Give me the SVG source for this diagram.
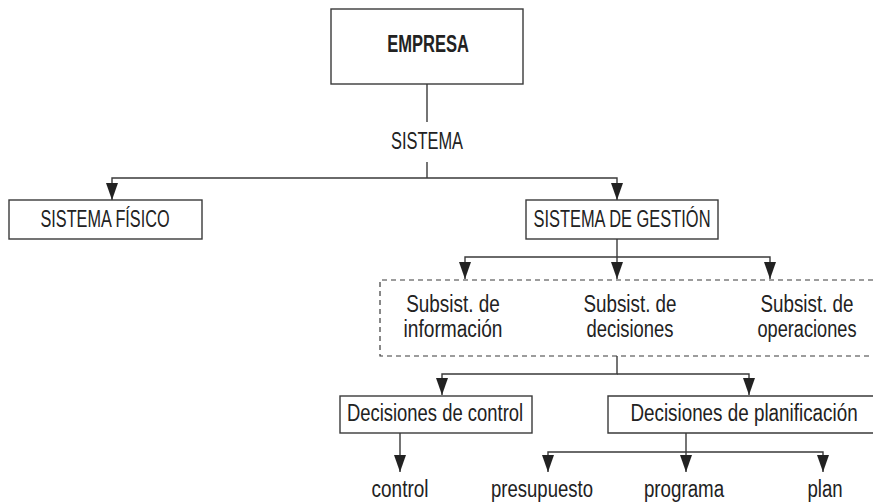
<svg xmlns="http://www.w3.org/2000/svg" width="873" height="504" viewBox="0 0 873 504">
  <style>
    .box { fill: #ffffff; stroke: #3a3a3a; stroke-width: 1.4; }
    .open { fill: none; stroke: #3a3a3a; stroke-width: 1.4; }
    .dash { fill: none; stroke: #3a3a3a; stroke-width: 1.2; stroke-dasharray: 5 4; }
    .ln { fill: none; stroke: #3a3a3a; stroke-width: 1.4; }
    .t { font-family: "Liberation Sans", Arial, sans-serif; font-size: 23.5px; fill: #222222; text-anchor: middle; }
    .b { font-weight: bold; }
  </style>
  <defs>
    <marker id="arr" viewBox="0 0 17 12" refX="17" refY="6" markerWidth="17" markerHeight="12" markerUnits="userSpaceOnUse" orient="auto">
      <path d="M0,0 L17,6 L0,12 z" fill="#222222"/>
    </marker>
  </defs>
  <rect width="873" height="504" fill="#ffffff"/>

  <g id="connectors">
    <path class="ln" d="M427,84 V122"/>
    <path class="ln" d="M427,162 V178"/>
    <path class="ln" d="M427,178 H112 V200" marker-end="url(#arr)"/>
    <path class="ln" d="M427,178 H617 V200" marker-end="url(#arr)"/>
    <path class="ln" d="M617,239 V279" marker-end="url(#arr)"/>
    <path class="ln" d="M617,257 H465 V279" marker-end="url(#arr)"/>
    <path class="ln" d="M617,257 H770 V279" marker-end="url(#arr)"/>
    <path class="ln" d="M617,356 V374 H442 V395" marker-end="url(#arr)"/>
    <path class="ln" d="M617,374 H749 V395" marker-end="url(#arr)"/>
    <path class="ln" d="M400,433 V472" marker-end="url(#arr)"/>
    <path class="ln" d="M686,433 V472" marker-end="url(#arr)"/>
    <path class="ln" d="M686,452 H548 V472" marker-end="url(#arr)"/>
    <path class="ln" d="M686,452 H823 V472" marker-end="url(#arr)"/>
  </g>

  <g id="empresa">
    <rect class="box" x="331" y="9" width="192" height="75"/>
    <text class="t b" transform="translate(428,52) scale(0.75,1)" textLength="109" lengthAdjust="spacingAndGlyphs">EMPRESA</text>
  </g>

  <g id="sistema">
    <text class="t" transform="translate(427,149) scale(0.75,1)" textLength="96" lengthAdjust="spacingAndGlyphs">SISTEMA</text>
  </g>

  <g id="sistema-fisico">
    <rect class="box" x="9" y="200" width="193" height="39"/>
    <text class="t" transform="translate(105,227) scale(0.75,1)" textLength="172" lengthAdjust="spacingAndGlyphs">SISTEMA FÍSICO</text>
  </g>

  <g id="sistema-gestion">
    <rect class="box" x="526" y="200" width="192" height="39"/>
    <text class="t" transform="translate(622,227) scale(0.75,1)" textLength="236" lengthAdjust="spacingAndGlyphs">SISTEMA DE GESTIÓN</text>
  </g>

  <g id="subsistemas">
    <path class="dash" d="M873,280 H380 V356 H873"/>
  </g>

  <g id="subsist-informacion">
    <text class="t" transform="translate(453,312) scale(0.75,1)" textLength="125" lengthAdjust="spacingAndGlyphs">Subsist. de</text>
    <text class="t" transform="translate(453,337) scale(0.75,1)" textLength="132" lengthAdjust="spacingAndGlyphs">información</text>
  </g>

  <g id="subsist-decisiones">
    <text class="t" transform="translate(630,312) scale(0.75,1)" textLength="124" lengthAdjust="spacingAndGlyphs">Subsist. de</text>
    <text class="t" transform="translate(630,337) scale(0.75,1)" textLength="116" lengthAdjust="spacingAndGlyphs">decisiones</text>
  </g>

  <g id="subsist-operaciones">
    <text class="t" transform="translate(807,312) scale(0.75,1)" textLength="124" lengthAdjust="spacingAndGlyphs">Subsist. de</text>
    <text class="t" transform="translate(807,337) scale(0.75,1)" textLength="132" lengthAdjust="spacingAndGlyphs">operaciones</text>
  </g>

  <g id="decisiones-control">
    <rect class="box" x="340" y="396" width="192" height="37"/>
    <text class="t" transform="translate(435,421) scale(0.75,1)" textLength="235" lengthAdjust="spacingAndGlyphs">Decisiones de control</text>
  </g>

  <g id="decisiones-planificacion">
    <path class="open" d="M873,396 H608 V433 H873"/>
    <text class="t" transform="translate(744,421) scale(0.75,1)" textLength="303" lengthAdjust="spacingAndGlyphs">Decisiones de planificación</text>
  </g>

  <g id="control">
    <text class="t" transform="translate(400,497) scale(0.75,1)" textLength="76" lengthAdjust="spacingAndGlyphs">control</text>
  </g>
  <g id="presupuesto">
    <text class="t" transform="translate(542,497) scale(0.75,1)" textLength="136" lengthAdjust="spacingAndGlyphs">presupuesto</text>
  </g>
  <g id="programa">
    <text class="t" transform="translate(684,497) scale(0.75,1)" textLength="107" lengthAdjust="spacingAndGlyphs">programa</text>
  </g>
  <g id="plan">
    <text class="t" transform="translate(825,497) scale(0.75,1)" textLength="47" lengthAdjust="spacingAndGlyphs">plan</text>
  </g>
</svg>
